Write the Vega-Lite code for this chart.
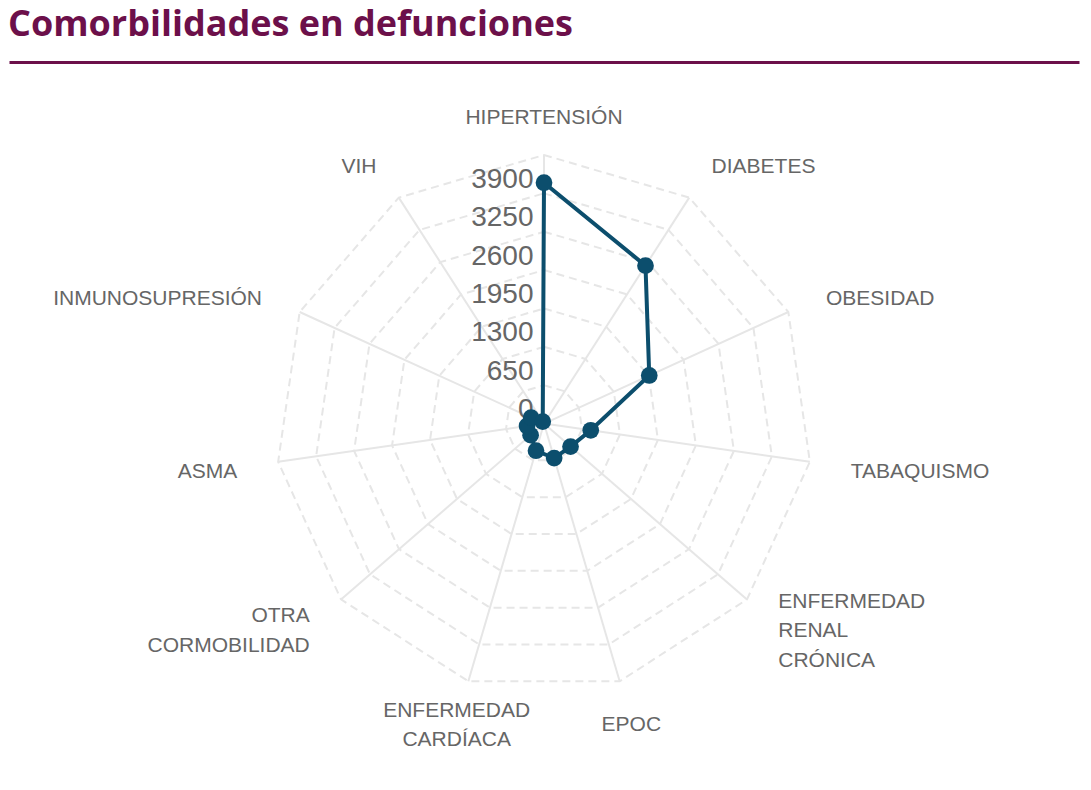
{
  "$schema": "https://vega.github.io/schema/vega-lite/v6.json",
  "width": 1070,
  "height": 727,
  "padding": {"left": 8, "right": 13, "top": 7, "bottom": 0},
  "background": "#ffffff",
  "title": {
    "text": "Comorbilidades en defunciones",
    "anchor": "start",
    "frame": "group",
    "font": "Open Sans",
    "fontSize": 36,
    "fontWeight": "bold",
    "color": "#6c104a",
    "baseline": "alphabetic",
    "offset": -10,
    "dx": -1
  },
  "config": {
    "view": {"stroke": null},
    "axis": {"grid": false, "minExtent": 0, "maxExtent": 0}
  },
  "datasets": {
    "comorb": [
      {"comorbilidad": "HIPERTENSIÓN", "defunciones": 4080},
      {"comorbilidad": "DIABETES", "defunciones": 3180},
      {"comorbilidad": "OBESIDAD", "defunciones": 1960},
      {"comorbilidad": "TABAQUISMO", "defunciones": 800},
      {"comorbilidad": "ENFERMEDAD RENAL CRÓNICA", "defunciones": 595},
      {"comorbilidad": "EPOC", "defunciones": 610},
      {"comorbilidad": "ENFERMEDAD CARDÍACA", "defunciones": 480},
      {"comorbilidad": "OTRA CORMOBILIDAD", "defunciones": 300},
      {"comorbilidad": "ASMA", "defunciones": 290},
      {"comorbilidad": "INMUNOSUPRESIÓN", "defunciones": 240},
      {"comorbilidad": "VIH", "defunciones": 40}
    ],
    "ticks": [
      {"tick": 0}, {"tick": 650}, {"tick": 1300}, {"tick": 1950},
      {"tick": 2600}, {"tick": 3250}, {"tick": 3900}
    ]
  },
  "layer": [
    {
      "data": {"name": "comorb"},
      "transform": [
        {"window": [{"op": "row_number", "as": "n"}]},
        {"calculate": "(datum.n - 1) * 2 * PI / 11", "as": "ang"},
        {"calculate": "4550 * sin(datum.ang)", "as": "ex"},
        {"calculate": "4550 * cos(datum.ang)", "as": "ey"},
        {"calculate": "0", "as": "o"}
      ],
      "mark": {"type": "rule", "color": "#e6e6e6", "strokeWidth": 2},
      "encoding": {
        "x": {"field": "o", "type": "quantitative", "scale": {"domain": [-9063, 9063], "nice": false, "zero": false}, "axis": {"orient": "top", "title": null, "labels": false, "ticks": false, "grid": false, "domainColor": "#6c104a", "domainWidth": 3, "minExtent": 0, "maxExtent": 0}},
        "y": {"field": "o", "type": "quantitative", "scale": {"domain": [-6191, 6125], "nice": false, "zero": false}, "axis": null},
        "x2": {"field": "ex"},
        "y2": {"field": "ey"}
      }
    },
    {
      "data": {"name": "comorb"},
      "transform": [
        {"window": [{"op": "row_number", "as": "n"}]},
        {"impute": "defunciones", "key": "anillo", "keyvals": [650, 1300, 1950, 2600, 3250, 3900, 4550], "groupby": ["comorbilidad", "n"], "value": 0},
        {"filter": "isValid(datum.anillo)"},
        {"calculate": "(datum.n - 1) * 2 * PI / 11", "as": "ang"},
        {"calculate": "datum.anillo * sin(datum.ang)", "as": "px"},
        {"calculate": "datum.anillo * cos(datum.ang)", "as": "py"}
      ],
      "mark": {"type": "line", "interpolate": "linear-closed", "color": "#e6e6e6", "strokeWidth": 2, "strokeDash": [8, 5]},
      "encoding": {
        "x": {"field": "px", "type": "quantitative", "scale": {"domain": [-9063, 9063], "nice": false, "zero": false}, "axis": {"orient": "top", "title": null, "labels": false, "ticks": false, "grid": false, "domainColor": "#6c104a", "domainWidth": 3, "minExtent": 0, "maxExtent": 0}},
        "y": {"field": "py", "type": "quantitative", "scale": {"domain": [-6191, 6125], "nice": false, "zero": false}, "axis": null},
        "detail": {"field": "anillo", "type": "nominal"},
        "order": {"field": "n", "type": "quantitative"}
      }
    },
    {
      "data": {"name": "ticks"},
      "transform": [
        {"calculate": "0", "as": "o"}
      ],
      "mark": {"type": "text", "align": "right", "baseline": "middle", "dx": -10.5, "dy": -13.4, "font": "Liberation Sans", "fontSize": 28, "color": "#666666"},
      "encoding": {
        "x": {"field": "o", "type": "quantitative", "scale": {"domain": [-9063, 9063], "nice": false, "zero": false}, "axis": {"orient": "top", "title": null, "labels": false, "ticks": false, "grid": false, "domainColor": "#6c104a", "domainWidth": 3, "minExtent": 0, "maxExtent": 0}},
        "y": {"field": "tick", "type": "quantitative", "scale": {"domain": [-6191, 6125], "nice": false, "zero": false}, "axis": null},
        "text": {"field": "tick", "type": "quantitative", "format": "d"}
      }
    },
    {
      "data": {"name": "comorb"},
      "transform": [
        {"window": [{"op": "row_number", "as": "n"}]},
        {"calculate": "(datum.n - 1) * 2 * PI / 11", "as": "ang"},
        {"calculate": "datum.defunciones * sin(datum.ang)", "as": "px"},
        {"calculate": "datum.defunciones * cos(datum.ang)", "as": "py"}
      ],
      "mark": {"type": "line", "interpolate": "linear-closed", "color": "#0c4e6d", "strokeWidth": 4},
      "encoding": {
        "x": {"field": "px", "type": "quantitative", "scale": {"domain": [-9063, 9063], "nice": false, "zero": false}, "axis": {"orient": "top", "title": null, "labels": false, "ticks": false, "grid": false, "domainColor": "#6c104a", "domainWidth": 3, "minExtent": 0, "maxExtent": 0}},
        "y": {"field": "py", "type": "quantitative", "scale": {"domain": [-6191, 6125], "nice": false, "zero": false}, "axis": null},
        "order": {"field": "n", "type": "quantitative"}
      }
    },
    {
      "data": {"name": "comorb"},
      "transform": [
        {"window": [{"op": "row_number", "as": "n"}]},
        {"calculate": "(datum.n - 1) * 2 * PI / 11", "as": "ang"},
        {"calculate": "datum.defunciones * sin(datum.ang)", "as": "px"},
        {"calculate": "datum.defunciones * cos(datum.ang)", "as": "py"}
      ],
      "mark": {"type": "circle", "color": "#0c4e6d", "size": 280, "opacity": 1},
      "encoding": {
        "x": {"field": "px", "type": "quantitative", "scale": {"domain": [-9063, 9063], "nice": false, "zero": false}, "axis": {"orient": "top", "title": null, "labels": false, "ticks": false, "grid": false, "domainColor": "#6c104a", "domainWidth": 3, "minExtent": 0, "maxExtent": 0}},
        "y": {"field": "py", "type": "quantitative", "scale": {"domain": [-6191, 6125], "nice": false, "zero": false}, "axis": null}
      }
    },
    {
      "data": {"name": "comorb"},
      "transform": [
        {"window": [{"op": "row_number", "as": "n"}]},
        {"calculate": "(datum.n - 1) * 2 * PI / 11", "as": "ang"},
        {"calculate": "length(split(datum.comorbilidad, ' '))", "as": "lineas"},
        {"calculate": "5251 * sin(datum.ang)", "as": "lx"},
        {"calculate": "5251 * cos(datum.ang) + (datum.lineas - 1) * 249.9", "as": "ly"},
        {"filter": "abs(sin(datum.ang)) < 0.35"}
      ],
      "mark": {"type": "text", "align": "center", "baseline": "middle", "dy": 4.5, "font": "Liberation Sans", "fontSize": 21, "color": "#666666", "lineBreak": " ", "lineHeight": 29.5},
      "encoding": {
        "x": {"field": "lx", "type": "quantitative", "scale": {"domain": [-9063, 9063], "nice": false, "zero": false}, "axis": {"orient": "top", "title": null, "labels": false, "ticks": false, "grid": false, "domainColor": "#6c104a", "domainWidth": 3, "minExtent": 0, "maxExtent": 0}},
        "y": {"field": "ly", "type": "quantitative", "scale": {"domain": [-6191, 6125], "nice": false, "zero": false}, "axis": null},
        "text": {"field": "comorbilidad", "type": "nominal"}
      }
    },
    {
      "data": {"name": "comorb"},
      "transform": [
        {"window": [{"op": "row_number", "as": "n"}]},
        {"calculate": "(datum.n - 1) * 2 * PI / 11", "as": "ang"},
        {"calculate": "length(split(datum.comorbilidad, ' '))", "as": "lineas"},
        {"calculate": "5251 * sin(datum.ang)", "as": "lx"},
        {"calculate": "5251 * cos(datum.ang) + (datum.lineas - 1) * 249.9", "as": "ly"},
        {"filter": "sin(datum.ang) >= 0.35"}
      ],
      "mark": {"type": "text", "align": "left", "baseline": "middle", "dy": 4.5, "font": "Liberation Sans", "fontSize": 21, "color": "#666666", "lineBreak": " ", "lineHeight": 29.5},
      "encoding": {
        "x": {"field": "lx", "type": "quantitative", "scale": {"domain": [-9063, 9063], "nice": false, "zero": false}, "axis": {"orient": "top", "title": null, "labels": false, "ticks": false, "grid": false, "domainColor": "#6c104a", "domainWidth": 3, "minExtent": 0, "maxExtent": 0}},
        "y": {"field": "ly", "type": "quantitative", "scale": {"domain": [-6191, 6125], "nice": false, "zero": false}, "axis": null},
        "text": {"field": "comorbilidad", "type": "nominal"}
      }
    },
    {
      "data": {"name": "comorb"},
      "transform": [
        {"window": [{"op": "row_number", "as": "n"}]},
        {"calculate": "(datum.n - 1) * 2 * PI / 11", "as": "ang"},
        {"calculate": "length(split(datum.comorbilidad, ' '))", "as": "lineas"},
        {"calculate": "5251 * sin(datum.ang)", "as": "lx"},
        {"calculate": "5251 * cos(datum.ang) + (datum.lineas - 1) * 249.9", "as": "ly"},
        {"filter": "sin(datum.ang) <= -0.35"}
      ],
      "mark": {"type": "text", "align": "right", "baseline": "middle", "dy": 4.5, "font": "Liberation Sans", "fontSize": 21, "color": "#666666", "lineBreak": " ", "lineHeight": 29.5},
      "encoding": {
        "x": {"field": "lx", "type": "quantitative", "scale": {"domain": [-9063, 9063], "nice": false, "zero": false}, "axis": {"orient": "top", "title": null, "labels": false, "ticks": false, "grid": false, "domainColor": "#6c104a", "domainWidth": 3, "minExtent": 0, "maxExtent": 0}},
        "y": {"field": "ly", "type": "quantitative", "scale": {"domain": [-6191, 6125], "nice": false, "zero": false}, "axis": null},
        "text": {"field": "comorbilidad", "type": "nominal"}
      }
    }
  ]
}
